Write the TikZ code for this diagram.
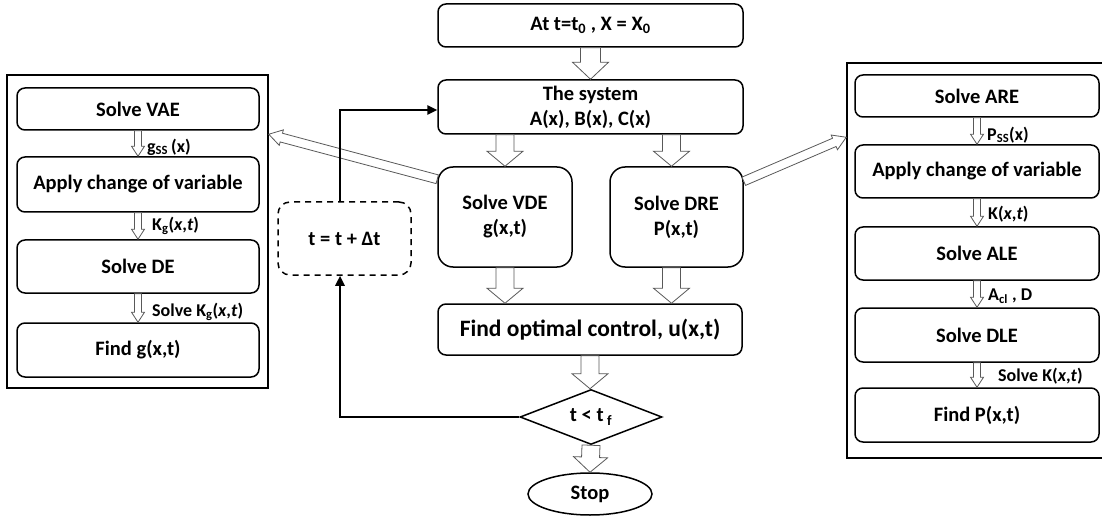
\documentclass[tikz,border=0pt]{standalone}
\usepackage{fontspec}
\setmainfont{Carlito}
\usetikzlibrary{calc,shapes.geometric,arrows.meta}

\tikzset{
  box/.style={draw, line width=1.5pt, rounded corners=8pt, inner sep=0pt, align=center,
    font=\bfseries\fontsize{20.5}{25}\selectfont},
  roundbox/.style={box, rounded corners=15pt},
  frame/.style={draw, line width=1.5pt, inner sep=0pt},
  lbl/.style={anchor=west, inner sep=0pt, font=\bfseries\fontsize{18}{20}\selectfont},
  hollow/.style={draw=black!65, fill=white, line width=0.8pt, line join=miter},
  loopline/.style={line width=2.4pt, -{Triangle[length=10pt,width=9pt]}},
}

% hollow block arrow: tail, tip, half shaft width, half head width, head length
\newcommand{\hollowarrow}[5]{%
  \coordinate (hb) at ($(#2)!#5!(#1)$);
  \filldraw[hollow] ($(#1)!#3!90:(#2)$) -- ($(hb)!#3!90:(#2)$) -- ($(hb)!#4!90:(#2)$)
    -- (#2) -- ($(hb)!#4!-90:(#2)$) -- ($(hb)!#3!-90:(#2)$) -- ($(#1)!#3!-90:(#2)$) -- cycle;
}

\begin{document}
\begin{tikzpicture}[x=1pt,y=-1pt]
\clip (0,0) rectangle (1102,521);

% side frames
\node[frame, minimum width=261pt, minimum height=313pt] (lbox) at (137.5,231.5) {};
\node[frame, minimum width=259pt, minimum height=395pt] (rbox) at (976.5,260.5) {};

% left column
\node[box, minimum width=242pt, minimum height=42pt] (vae)  at (138,109)   {Solve VAE};
\node[box, minimum width=242pt, minimum height=55pt] (lapp) at (138,184.5) {Apply change of variable};
\node[box, minimum width=242pt, minimum height=53pt] (de)   at (138,266.5) {Solve DE};
\node[box, minimum width=242pt, minimum height=54pt] (fg)   at (138,350)   {Find g(x,t)};

% right column
\node[box, minimum width=244pt, minimum height=42pt] (are)  at (977,96)    {Solve ARE};
\node[box, minimum width=244pt, minimum height=53pt] (rapp) at (977,171.5) {Apply change of variable};
\node[box, minimum width=244pt, minimum height=53pt] (ale)  at (977,253.5) {Solve ALE};
\node[box, minimum width=244pt, minimum height=54pt] (dle)  at (977,335)   {Solve DLE};
\node[box, minimum width=244pt, minimum height=54pt] (fp)   at (977,415)   {Find P(x,t)};

% centre column
\node[box, minimum width=305pt, minimum height=43pt] (init) at (590.5,25.5)
  {At t=t\textsubscript{0} , X = X\textsubscript{0}};
\node[box, minimum width=305pt, minimum height=54pt] (sys) at (590.5,107)
  {The system\\A(x), B(x), C(x)};
\node[roundbox, minimum width=134pt, minimum height=100pt] (vde) at (505,217)
  {Solve VDE\\g(x,t)};
\node[roundbox, minimum width=133pt, minimum height=100pt] (dre) at (676.5,217)
  {Solve DRE\\P(x,t)};
\node[box, minimum width=304pt, minimum height=51pt,
  font=\bfseries\fontsize{23.5}{26}\selectfont] (opt) at (590,329.5)
  {Find optimal control, u(x,t)};
\node[draw, diamond, line width=1.5pt, aspect=2.6, minimum width=142pt, minimum height=55pt,
  inner sep=0pt, font=\bfseries\fontsize{20.5}{25}\selectfont] (dia) at (591,417)
  {t < t\,\textsubscript{f}};
\node[draw, ellipse, line width=1.5pt, minimum width=124pt, minimum height=42pt,
  inner sep=0pt, font=\bfseries\fontsize{20.5}{25}\selectfont] (stop) at (590,494) {Stop};
\node[box, dashed, dash pattern=on 6pt off 5pt, rounded corners=12pt,
  minimum width=133pt, minimum height=73pt] (dt) at (344.5,238.5) {t = t + Δt};

% main flow block arrows
\hollowarrow{init.south}{sys.north}{10pt}{18pt}{17pt}
\coordinate (vdeTop) at (vde.north |- sys.south);
\hollowarrow{vdeTop}{vde.north}{9pt}{18pt}{15pt}
\coordinate (dreIn) at ([xshift=-5pt]dre.north);
\coordinate (dreTop) at (dreIn |- sys.south);
\hollowarrow{dreTop}{dreIn}{9pt}{18pt}{15pt}
\coordinate (vdeOut) at (vde.south |- opt.north);
\hollowarrow{vde.south}{vdeOut}{9pt}{18pt}{15pt}
\coordinate (dreOut) at ([xshift=-5pt]dre.south);
\coordinate (dreEnd) at (dreOut |- opt.north);
\hollowarrow{dreOut}{dreEnd}{9pt}{18pt}{15pt}
\coordinate (optOut) at (opt.south |- dia.north);
\hollowarrow{opt.south}{optOut}{9pt}{18pt}{15pt}
\hollowarrow{dia.south}{stop.north}{9pt}{17pt}{15pt}

% branches to the side frames
\coordinate (dl0) at ($(vde.north west)+(0,13)$);
\coordinate (dl1) at ($(lbox.north east)+(0,60)$);
\hollowarrow{dl0}{dl1}{4.5pt}{8pt}{13pt}
\coordinate (dr0) at ($(dre.north east)+(0,15)$);
\coordinate (dr1) at ($(rbox.north west)+(0,75)$);
\hollowarrow{dr0}{dr1}{4.5pt}{8pt}{13pt}

% left chain
\hollowarrow{vae.south}{lapp.north}{3.5pt}{6.5pt}{10pt}
\hollowarrow{lapp.south}{de.north}{3.5pt}{6.5pt}{10pt}
\hollowarrow{de.south}{fg.north}{3.5pt}{6.5pt}{10pt}
\node[lbl] (l1) at (147,147) {g\textsubscript{SS}\,(x)};
\node[lbl] (l2) at (152,226) {K\textsubscript{g}(\textit{x},\textit{t})};
\node[lbl] (l3) at (152,312) {Solve K\textsubscript{g}(\textit{x},\textit{t})};

% right chain
\hollowarrow{are.south}{rapp.north}{3.5pt}{6.5pt}{10pt}
\hollowarrow{rapp.south}{ale.north}{3.5pt}{6.5pt}{10pt}
\hollowarrow{ale.south}{dle.north}{3.5pt}{6.5pt}{10pt}
\hollowarrow{dle.south}{fp.north}{3.5pt}{6.5pt}{10pt}
\node[lbl] (r1) at (987,135) {P\textsubscript{SS}(x)};
\node[lbl] (r2) at (988,214) {K(\textit{x},\textit{t})};
\node[lbl] (r3) at (988,296) {A\textsubscript{cl} , D};
\node[lbl] (r4) at (998,376) {Solve K(\textit{x},\textit{t})};

% time-step loop
\draw[loopline] (dia.west) -| ([xshift=-4.5pt]dt.south);
\draw[loopline] ([xshift=-4.5pt]dt.north) |- ([yshift=-3pt]sys.west);
\end{tikzpicture}
\end{document}
